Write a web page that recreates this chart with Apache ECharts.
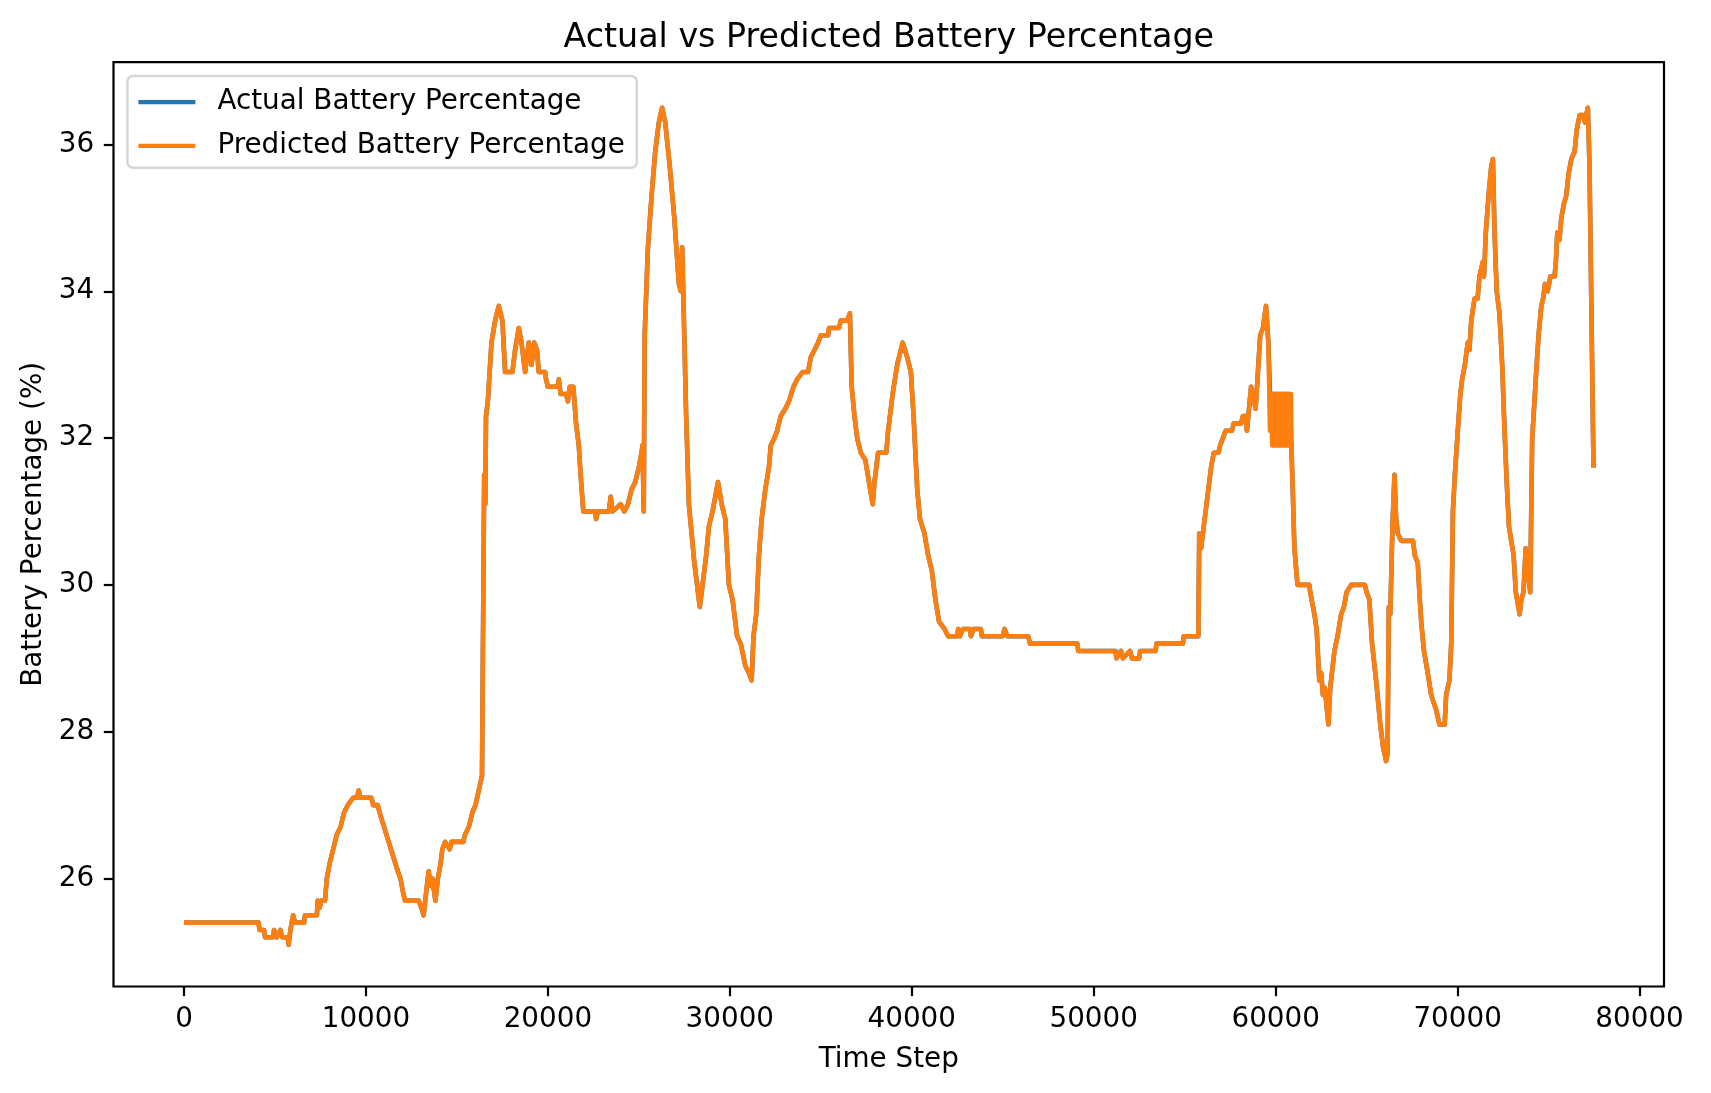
<!DOCTYPE html>
<html>
<head>
<meta charset="utf-8">
<title>Actual vs Predicted Battery Percentage</title>
<script src="https://cdn.jsdelivr.net/npm/echarts@6.0.0/dist/echarts.min.js"></script>
<style>
  html, body { margin: 0; padding: 0; background: #fff; }
  #container { width: 1711px; height: 1093px; }
</style>
</head>
<body>
<div id="container"></div>
<script>
// time steps (x axis)
var timeSteps = [
  0, 4100, 4150, 4400, 4450, 4900, 4950, 5050, 5100, 5300, 5400, 5700, 5750, 5850, 6000, 6100, 6600, 6650, 7300, 7350,
  7450, 7550, 7750, 7850, 8000, 8200, 8400, 8600, 8800, 9000, 9300, 9500, 9600, 9700, 10300, 10400, 10650, 10750, 11000, 11250,
  11500, 11750, 11900, 12050, 12150, 12900, 13050, 13170, 13350, 13450, 13550, 13650, 13820, 13950, 14100, 14200, 14350, 14600, 14700, 15350,
  15450, 15650, 15850, 16020, 16200, 16380, 16460, 16500, 16560, 16600, 16700, 16900, 17100, 17300, 17500, 17650, 18050, 18200, 18400, 18550,
  18750, 18950, 19100, 19250, 19400, 19500, 19850, 19900, 20000, 20550, 20600, 20700, 21000, 21100, 21200, 21400, 21550, 21700, 21800, 21950,
  22600, 22650, 22750, 23350, 23450, 23550, 24000, 24200, 24400, 24600, 24800, 25000, 25150, 25200, 25270, 25320, 25500, 25700, 25900, 26100,
  26280, 26450, 26700, 26950, 27200, 27300, 27380, 27450, 27600, 27750, 27900, 28050, 28350, 28500, 28700, 28850, 29050, 29350, 29550, 29750,
  29950, 30150, 30400, 30600, 30850, 31050, 31200, 31300, 31450, 31600, 31750, 31950, 32150, 32250, 32450, 32600, 32800, 33050, 33250, 33500,
  33700, 34000, 34300, 34450, 34650, 34850, 35000, 35400, 35450, 36000, 36100, 36450, 36600, 36700, 36850, 37000, 37200, 37450, 37650, 37850,
  37950, 38150, 38600, 38700, 38950, 39200, 39500, 39750, 39950, 40100, 40300, 40450, 40700, 40900, 41100, 41300, 41500, 41800, 42000, 42500,
  42550, 42650, 42800, 43200, 43250, 43400, 43800, 43850, 45000, 45100, 45250, 46400, 46500, 49100, 49150, 51200, 51250, 51500, 51600, 52000,
  52100, 52500, 52550, 53400, 53450, 54900, 54950, 55750, 55800, 55900, 56150, 56300, 56450, 56600, 56850, 56950, 57100, 57250, 57600, 57700,
  58100, 58200, 58350, 58420, 58650, 58900, 59150, 59300, 59470, 59600, 59690, 59750, 59810, 59870, 59930, 59990, 60050, 60110, 60170, 60230,
  60290, 60350, 60410, 60470, 60530, 60590, 60650, 60710, 60770, 60830, 60870, 60950, 61030, 61200, 61850, 61900, 62000, 62130, 62250, 62400,
  62500, 62600, 62700, 62900, 63000, 63230, 63400, 63600, 63750, 63900, 64150, 64900, 65000, 65150, 65300, 65520, 65750, 65900, 66070, 66150,
  66220, 66300, 66420, 66530, 66620, 66710, 66800, 66900, 67550, 67650, 67810, 67900, 68000, 68150, 68360, 68550, 68820, 69000, 69290, 69370,
  69550, 69650, 69740, 69850, 70010, 70150, 70250, 70400, 70560, 70650, 70750, 70930, 71100, 71200, 71390, 71450, 71550, 71700, 71850, 71940,
  72030, 72150, 72300, 72450, 72580, 72700, 72820, 72950, 73080, 73200, 73410, 73500, 73620, 73740, 73850, 73990, 74100, 74200, 74320, 74450,
  74600, 74700, 74800, 74950, 75100, 75330, 75400, 75480, 75600, 75700, 75850, 75970, 76100, 76250, 76430, 76550, 76710, 76900, 77000, 77070,
  77160, 77250, 77470
];

// predicted battery percentage (orange)
var predictedPct = [
  25.4, 25.4, 25.3, 25.3, 25.2, 25.2, 25.3, 25.3, 25.2, 25.3, 25.2, 25.2, 25.1, 25.3, 25.5, 25.4, 25.4, 25.5, 25.5, 25.7,
  25.6, 25.7, 25.7, 26.0, 26.2, 26.4, 26.6, 26.7, 26.9, 27.0, 27.1, 27.1, 27.2, 27.1, 27.1, 27.0, 27.0, 26.9, 26.7, 26.5,
  26.3, 26.1, 26.0, 25.8, 25.7, 25.7, 25.6, 25.5, 25.9, 26.1, 25.9, 26.0, 25.7, 26.0, 26.2, 26.4, 26.5, 26.4, 26.5, 26.5,
  26.6, 26.7, 26.9, 27.0, 27.2, 27.4, 27.4, 31.5, 31.1, 32.3, 32.5, 33.3, 33.6, 33.8, 33.6, 32.9, 32.9, 33.2, 33.5, 33.3,
  32.9, 33.3, 33.0, 33.3, 33.2, 32.9, 32.9, 32.8, 32.7, 32.7, 32.8, 32.6, 32.6, 32.5, 32.7, 32.7, 32.2, 31.9, 31.5, 31.0,
  31.0, 30.9, 31.0, 31.0, 31.2, 31.0, 31.1, 31.0, 31.1, 31.3, 31.4, 31.6, 31.8, 31.9, 31.0, 33.4, 34.6, 35.3, 35.9, 36.3,
  36.5, 36.3, 35.7, 35.0, 34.1, 34.0, 34.6, 33.9, 32.3, 31.1, 30.7, 30.3, 29.7, 30.0, 30.4, 30.8, 31.0, 31.4, 31.1, 30.9,
  30.0, 29.8, 29.3, 29.2, 28.9, 28.8, 28.7, 29.3, 29.6, 30.4, 30.9, 31.3, 31.6, 31.9, 32.0, 32.1, 32.3, 32.4, 32.5, 32.7,
  32.8, 32.9, 32.9, 33.1, 33.2, 33.3, 33.4, 33.4, 33.5, 33.5, 33.6, 33.6, 33.7, 32.7, 32.3, 32.0, 31.8, 31.7, 31.4, 31.1,
  31.4, 31.8, 31.8, 32.1, 32.6, 33.0, 33.3, 33.1, 32.9, 32.3, 31.3, 30.9, 30.7, 30.4, 30.2, 29.8, 29.5, 29.4, 29.3, 29.3,
  29.4, 29.3, 29.4, 29.4, 29.3, 29.4, 29.4, 29.3, 29.3, 29.4, 29.3, 29.3, 29.2, 29.2, 29.1, 29.1, 29.0, 29.1, 29.0, 29.1,
  29.0, 29.0, 29.1, 29.1, 29.2, 29.2, 29.3, 29.3, 30.7, 30.5, 31.0, 31.3, 31.6, 31.8, 31.8, 31.9, 32.0, 32.1, 32.1, 32.2,
  32.2, 32.3, 32.3, 32.1, 32.7, 32.4, 33.4, 33.5, 33.8, 33.3, 32.1, 32.6, 31.9, 32.6, 31.9, 32.6, 31.9, 32.6, 31.9, 32.6,
  31.9, 32.6, 31.9, 32.6, 31.9, 32.6, 31.9, 32.6, 31.9, 32.6, 31.9, 31.2, 30.5, 30.0, 30.0, 29.9, 29.9, 29.6, 29.4, 28.7,
  28.8, 28.5, 28.6, 28.1, 28.6, 29.1, 29.3, 29.6, 29.7, 29.9, 30.0, 30.0, 29.9, 29.8, 29.2, 28.7, 28.1, 27.8, 27.6, 27.7,
  29.7, 29.6, 30.8, 31.5, 30.9, 30.7, 30.7, 30.6, 30.6, 30.4, 30.3, 29.9, 29.5, 29.1, 28.8, 28.5, 28.3, 28.1, 28.1, 28.5,
  28.7, 29.2, 31.0, 31.5, 32.1, 32.6, 32.8, 33.0, 33.3, 33.2, 33.6, 33.9, 33.9, 34.2, 34.4, 34.2, 34.8, 35.3, 35.7, 35.8,
  34.8, 34.0, 33.7, 33.0, 32.1, 31.4, 30.8, 30.6, 30.4, 29.9, 29.6, 29.8, 29.9, 30.5, 30.2, 29.9, 32.0, 32.4, 32.9, 33.4,
  33.8, 33.9, 34.1, 34.0, 34.2, 34.2, 34.4, 34.8, 34.7, 35.0, 35.2, 35.3, 35.6, 35.8, 35.9, 36.2, 36.4, 36.4, 36.3, 36.4,
  36.5, 35.7, 31.6
];

// actual battery percentage (blue) - same as predicted except the flat 32.6 stretch near 60000
var actualPct = [
  25.4, 25.4, 25.3, 25.3, 25.2, 25.2, 25.3, 25.3, 25.2, 25.3, 25.2, 25.2, 25.1, 25.3, 25.5, 25.4, 25.4, 25.5, 25.5, 25.7,
  25.6, 25.7, 25.7, 26.0, 26.2, 26.4, 26.6, 26.7, 26.9, 27.0, 27.1, 27.1, 27.2, 27.1, 27.1, 27.0, 27.0, 26.9, 26.7, 26.5,
  26.3, 26.1, 26.0, 25.8, 25.7, 25.7, 25.6, 25.5, 25.9, 26.1, 25.9, 26.0, 25.7, 26.0, 26.2, 26.4, 26.5, 26.4, 26.5, 26.5,
  26.6, 26.7, 26.9, 27.0, 27.2, 27.4, 27.4, 31.5, 31.1, 32.3, 32.5, 33.3, 33.6, 33.8, 33.6, 32.9, 32.9, 33.2, 33.5, 33.3,
  32.9, 33.3, 33.0, 33.3, 33.2, 32.9, 32.9, 32.8, 32.7, 32.7, 32.8, 32.6, 32.6, 32.5, 32.7, 32.7, 32.2, 31.9, 31.5, 31.0,
  31.0, 30.9, 31.0, 31.0, 31.2, 31.0, 31.1, 31.0, 31.1, 31.3, 31.4, 31.6, 31.8, 31.9, 31.0, 33.4, 34.6, 35.3, 35.9, 36.3,
  36.5, 36.3, 35.7, 35.0, 34.1, 34.0, 34.6, 33.9, 32.3, 31.1, 30.7, 30.3, 29.7, 30.0, 30.4, 30.8, 31.0, 31.4, 31.1, 30.9,
  30.0, 29.8, 29.3, 29.2, 28.9, 28.8, 28.7, 29.3, 29.6, 30.4, 30.9, 31.3, 31.6, 31.9, 32.0, 32.1, 32.3, 32.4, 32.5, 32.7,
  32.8, 32.9, 32.9, 33.1, 33.2, 33.3, 33.4, 33.4, 33.5, 33.5, 33.6, 33.6, 33.7, 32.7, 32.3, 32.0, 31.8, 31.7, 31.4, 31.1,
  31.4, 31.8, 31.8, 32.1, 32.6, 33.0, 33.3, 33.1, 32.9, 32.3, 31.3, 30.9, 30.7, 30.4, 30.2, 29.8, 29.5, 29.4, 29.3, 29.3,
  29.4, 29.3, 29.4, 29.4, 29.3, 29.4, 29.4, 29.3, 29.3, 29.4, 29.3, 29.3, 29.2, 29.2, 29.1, 29.1, 29.0, 29.1, 29.0, 29.1,
  29.0, 29.0, 29.1, 29.1, 29.2, 29.2, 29.3, 29.3, 30.7, 30.5, 31.0, 31.3, 31.6, 31.8, 31.8, 31.9, 32.0, 32.1, 32.1, 32.2,
  32.2, 32.3, 32.3, 32.1, 32.7, 32.4, 33.4, 33.5, 33.8, 33.3, 32.6, 32.6, 32.6, 32.6, 32.6, 32.6, 32.6, 32.6, 32.6, 32.6,
  32.6, 32.6, 32.6, 32.6, 32.6, 32.6, 32.6, 32.6, 32.6, 32.6, 32.6, 31.2, 30.5, 30.0, 30.0, 29.9, 29.9, 29.6, 29.4, 28.7,
  28.8, 28.5, 28.6, 28.1, 28.6, 29.1, 29.3, 29.6, 29.7, 29.9, 30.0, 30.0, 29.9, 29.8, 29.2, 28.7, 28.1, 27.8, 27.6, 27.7,
  29.7, 29.6, 30.8, 31.5, 30.9, 30.7, 30.7, 30.6, 30.6, 30.4, 30.3, 29.9, 29.5, 29.1, 28.8, 28.5, 28.3, 28.1, 28.1, 28.5,
  28.7, 29.2, 31.0, 31.5, 32.1, 32.6, 32.8, 33.0, 33.3, 33.2, 33.6, 33.9, 33.9, 34.2, 34.4, 34.2, 34.8, 35.3, 35.7, 35.8,
  34.8, 34.0, 33.7, 33.0, 32.1, 31.4, 30.8, 30.6, 30.4, 29.9, 29.6, 29.8, 29.9, 30.5, 30.2, 29.9, 32.0, 32.4, 32.9, 33.4,
  33.8, 33.9, 34.1, 34.0, 34.2, 34.2, 34.4, 34.8, 34.7, 35.0, 35.2, 35.3, 35.6, 35.8, 35.9, 36.2, 36.4, 36.4, 36.3, 36.4,
  36.5, 35.7, 31.6
];

var xTicks = [0, 10000, 20000, 30000, 40000, 50000, 60000, 70000, 80000];
var yTicks = [26, 28, 30, 32, 34, 36];

function toPairs(xs, ys) {
  var out = [];
  for (var i = 0; i < xs.length; i++) out.push([xs[i], ys[i]]);
  return out;
}

var FONT = 'DejaVu Sans';
var myChart = echarts.init(document.getElementById('container'), null, { renderer: 'canvas' });

var option = {
  animation: false,
  backgroundColor: '#ffffff',
  title: {
    text: 'Actual vs Predicted Battery Percentage',
    left: 888.8,
    top: 21.5,
    padding: 0,
    textAlign: 'center',
    textVerticalAlign: 'top',
    textStyle: { fontFamily: FONT, fontSize: 33.3, fontWeight: 'normal', color: '#000' }
  },
  legend: {
    data: ['Actual Battery Percentage', 'Predicted Battery Percentage'],
    orient: 'vertical',
    left: 127.4,
    top: 76.1,
    padding: [11, 12, 7, 11],
    itemGap: 13.7,
    itemWidth: 57,
    itemHeight: 4.2,
    icon: 'rect',
    backgroundColor: 'rgba(255,255,255,0.8)',
    borderColor: '#d6d6d6',
    borderWidth: 2.5,
    borderRadius: 5.6,
    textStyle: { fontFamily: FONT, fontSize: 27.8, color: '#000', lineHeight: 30, padding: [0, 0, 0, 17] }
  },
  grid: {
    left: 113.5,
    right: 47,
    top: 62.2,
    bottom: 106.5,
    show: true,
    borderColor: '#000',
    borderWidth: 2.2,
    backgroundColor: 'transparent'
  },
  xAxis: {
    type: 'value',
    min: -3874,
    max: 81344,
    name: 'Time Step',
    nameLocation: 'middle',
    nameGap: 59,
    nameTextStyle: { fontFamily: FONT, fontSize: 27.8, color: '#000' },
    axisLine: { show: false, onZero: false },
    splitLine: { show: false },
    axisTick: { show: true, length: 9.7, customValues: xTicks, lineStyle: { color: '#000', width: 2.2 } },
    axisLabel: {
      customValues: xTicks, margin: 19.4, fontFamily: FONT, fontSize: 27.8, color: '#000',
      formatter: function (v) { return String(v); }
    }
  },
  yAxis: {
    type: 'value',
    min: 24.53,
    max: 37.12,
    name: 'Battery Percentage (%)',
    nameLocation: 'middle',
    nameRotate: 90,
    nameGap: 66,
    nameTextStyle: { fontFamily: FONT, fontSize: 27.8, color: '#000' },
    axisLine: { show: false, onZero: false },
    splitLine: { show: false },
    axisTick: { show: true, length: 9.7, customValues: yTicks, lineStyle: { color: '#000', width: 2.2 } },
    axisLabel: {
      customValues: yTicks, margin: 19.4, fontFamily: FONT, fontSize: 27.8, color: '#000',
      formatter: function (v) { return String(v); }
    }
  },
  series: [
    {
      name: 'Actual Battery Percentage',
      type: 'line',
      data: toPairs(timeSteps, actualPct),
      showSymbol: false,
      symbol: 'none',
      color: '#1f77b4',
      lineStyle: { color: '#1f77b4', width: 4.6, join: 'round' }
    },
    {
      name: 'Predicted Battery Percentage',
      type: 'line',
      data: toPairs(timeSteps, predictedPct),
      showSymbol: false,
      symbol: 'none',
      color: '#ff7f0e',
      lineStyle: { color: '#ff7f0e', width: 4.6, join: 'round' }
    }
  ]
};

myChart.setOption(option);
</script>
</body>
</html>
